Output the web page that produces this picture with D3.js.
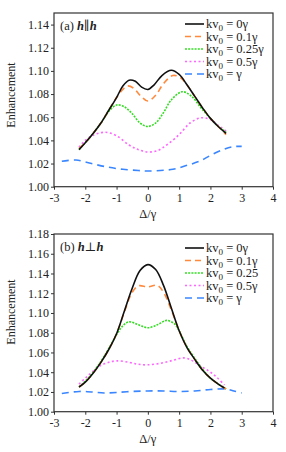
<!DOCTYPE html>
<html>
<head>
<meta charset="utf-8">
<script src="https://cdn.jsdelivr.net/npm/d3@7"></script>
<style>
  body { margin: 0; background: #fff; }
  #chart, #chart text { font-family: "Liberation Serif", "Times New Roman", "DejaVu Serif", serif !important; }
</style>
</head>
<body>
<svg id="chart" width="286" height="452"></svg>
<script>
// ---- data ----
var xTicks = [-3, -2, -1, 0, 1, 2, 3, 4];
var yTicksA = [1.00, 1.02, 1.04, 1.06, 1.08, 1.10, 1.12, 1.14];
var yTicksB = [1.00, 1.02, 1.04, 1.06, 1.08, 1.10, 1.12, 1.14, 1.16, 1.18];

var seriesNames = ["0γ", "0.1γ", "0.25γ", "0.5γ", "γ"];
var seriesNamesB = ["0γ", "0.1γ", "0.25", "0.5γ", "γ"];
var seriesColors = ["#111111", "#ff8a3d", "#33dd22", "#ff66ff", "#3a86ff"];
var seriesDash = [null, "6,4", "2,1.2", "2,2.5", "7,5"];

// panel (a) h || h
var a0x = [-2.2, -2.0, -1.75, -1.5, -1.25, -1.0, -0.8, -0.6, -0.4, -0.2, 0.0, 0.2, 0.45, 0.75, 1.0, 1.25, 1.5, 1.75, 2.0, 2.25, 2.5];
var a0y = [1.032, 1.038, 1.046, 1.055, 1.066, 1.077, 1.087, 1.092, 1.091, 1.086, 1.084, 1.088, 1.096, 1.1005, 1.097, 1.088, 1.078, 1.068, 1.059, 1.052, 1.046];
var a1x = [-2.2, -2.0, -1.75, -1.5, -1.25, -1.0, -0.8, -0.65, -0.45, -0.25, 0.0, 0.25, 0.5, 0.8, 1.05, 1.3, 1.5, 1.75, 2.0, 2.25, 2.5];
var a1y = [1.033, 1.038, 1.046, 1.055, 1.066, 1.077, 1.084, 1.087, 1.085, 1.079, 1.074, 1.079, 1.089, 1.096, 1.094, 1.086, 1.078, 1.068, 1.059, 1.052, 1.045];
var a2x = [-2.2, -2.0, -1.75, -1.5, -1.25, -1.0, -0.75, -0.5, -0.25, 0.0, 0.25, 0.5, 0.75, 1.1, 1.4, 1.7, 2.0, 2.25, 2.5];
var a2y = [1.032, 1.038, 1.046, 1.055, 1.065, 1.0705, 1.069, 1.063, 1.055, 1.052, 1.055, 1.064, 1.075, 1.082, 1.078, 1.068, 1.059, 1.052, 1.047];
var a3x = [-2.2, -2.0, -1.7, -1.35, -1.0, -0.6, -0.3, 0.0, 0.3, 0.6, 1.0, 1.35, 1.7, 2.0, 2.25, 2.5];
var a3y = [1.034, 1.040, 1.045, 1.047, 1.044, 1.036, 1.032, 1.030, 1.031, 1.036, 1.045, 1.055, 1.0595, 1.058, 1.053, 1.048];
var a4x = [-2.75, -2.3, -1.8, -1.3, -0.8, -0.3, 0.0, 0.4, 0.8, 1.2, 1.65, 2.0, 2.4, 2.7, 3.0];
var a4y = [1.022, 1.023, 1.020, 1.017, 1.015, 1.014, 1.0135, 1.014, 1.015, 1.018, 1.022, 1.027, 1.032, 1.0345, 1.0348];

// panel (b) h ⊥ h
var b0x = [-2.2, -2.0, -1.75, -1.5, -1.25, -1.0, -0.75, -0.5, -0.25, 0.0, 0.25, 0.5, 0.75, 1.0, 1.25, 1.5, 1.75, 2.0, 2.25, 2.45];
var b0y = [1.025, 1.030, 1.039, 1.050, 1.063, 1.079, 1.102, 1.125, 1.143, 1.149, 1.144, 1.128, 1.105, 1.082, 1.065, 1.053, 1.042, 1.034, 1.028, 1.024];
var b1x = [-2.2, -2.0, -1.75, -1.5, -1.25, -1.0, -0.75, -0.5, -0.3, 0.0, 0.3, 0.5, 0.75, 1.0, 1.25, 1.5, 1.75, 2.0, 2.25, 2.5];
var b1y = [1.025, 1.030, 1.039, 1.050, 1.063, 1.079, 1.101, 1.121, 1.1275, 1.1265, 1.128, 1.121, 1.103, 1.082, 1.065, 1.053, 1.042, 1.034, 1.028, 1.023];
var b2x = [-2.2, -2.0, -1.75, -1.5, -1.25, -1.0, -0.8, -0.6, -0.3, 0.0, 0.3, 0.6, 0.85, 1.0, 1.25, 1.5, 1.75, 2.0, 2.25, 2.5];
var b2y = [1.025, 1.031, 1.040, 1.051, 1.064, 1.078, 1.087, 1.091, 1.088, 1.085, 1.088, 1.0925, 1.089, 1.082, 1.066, 1.054, 1.043, 1.034, 1.028, 1.023];
var b3x = [-2.2, -2.0, -1.75, -1.5, -1.25, -1.0, -0.6, -0.3, 0.0, 0.4, 0.8, 1.15, 1.4, 1.6, 1.8, 2.0, 2.2, 2.45];
var b3y = [1.028, 1.034, 1.041, 1.047, 1.050, 1.0515, 1.050, 1.048, 1.0475, 1.049, 1.052, 1.0545, 1.052, 1.048, 1.044, 1.040, 1.035, 1.027];
var b4x = [-2.75, -2.2, -1.8, -1.4, -1.0, -0.5, 0.0, 0.5, 1.0, 1.5, 2.0, 2.5, 2.75, 3.0];
var b4y = [1.0185, 1.0205, 1.020, 1.019, 1.0195, 1.0205, 1.021, 1.021, 1.0205, 1.021, 1.0225, 1.023, 1.021, 1.019];

function zipSeries(xs, ys) {
    return xs.map(function (x, i) { return { x: x, y: ys[i] }; });
}

var panelA = {
    top: 13, bottom: 186.7, yMax: 1.15, yTicks: yTicksA, tag: "(a) ", sym: "∥",
    names: seriesNames, labelMid: 95,
    series: [zipSeries(a0x, a0y), zipSeries(a1x, a1y), zipSeries(a2x, a2y), zipSeries(a3x, a3y), zipSeries(a4x, a4y)],
    legendTop: 24
};
var panelB = {
    top: 234, bottom: 411.7, yMax: 1.18, yTicks: yTicksB, tag: "(b) ", sym: "⊥",
    names: seriesNamesB, labelMid: 312,
    series: [zipSeries(b0x, b0y), zipSeries(b1x, b1y), zipSeries(b2x, b2y), zipSeries(b3x, b3y), zipSeries(b4x, b4y)],
    legendTop: 248
};

var serif = "'Liberation Serif', 'Times New Roman', serif";
var svg = d3.select("#chart");
var left = 54, right = 273;

function drawPanel(p) {
    var x = d3.scaleLinear().domain([-3, 4]).range([left, right]);
    var y = d3.scaleLinear().domain([1.00, p.yMax]).range([p.bottom, p.top]);
    var g = svg.append("g").style("font-family", serif);

    //curves
    var line = d3.line().x(function (d) { return x(d.x); }).y(function (d) { return y(d.y); })
        .curve(d3.curveCatmullRom.alpha(0.5));
    for (var i = p.series.length - 1; i >= 0; i--) {
        g.append("path").attr("d", line(p.series[i]))
            .attr("fill", "none")
            .attr("stroke", seriesColors[i])
            .attr("stroke-width", 1.6)
            .attr("stroke-dasharray", seriesDash[i]);
    }

    //axes (plain hyphen for negatives, like the original)
    var xAxis = g.append("g").attr("transform", "translate(0," + p.bottom + ")")
        .call(d3.axisBottom(x).tickValues(xTicks).tickSize(3).tickSizeOuter(0).tickFormat(function (d) { return String(d); }));
    var yAxis = g.append("g").attr("transform", "translate(" + left + ",0)")
        .call(d3.axisLeft(y).tickValues(p.yTicks).tickSize(3).tickSizeOuter(0).tickFormat(d3.format(".2f")));
    [xAxis, yAxis].forEach(function (ax) {
        ax.attr("font-family", null).attr("font-size", null);
        ax.select(".domain").remove();
        ax.selectAll("line").attr("stroke", "#333").attr("stroke-width", 1);
        ax.selectAll("text").style("font-size", "12px").style("font-family", serif).attr("fill", "#222");
    });
    xAxis.selectAll("text").attr("dy", "0.8em");
    yAxis.selectAll("text").attr("x", -5);

    //frame
    g.append("rect").attr("x", left).attr("y", p.top)
        .attr("width", right - left).attr("height", p.bottom - p.top)
        .attr("fill", "none").attr("stroke", "#333").attr("stroke-width", 1.2);

    //axis titles
    g.append("text").attr("transform", "translate(15," + p.labelMid + ") rotate(-90)")
        .attr("text-anchor", "middle").style("font-size", "12px").attr("fill", "#222").text("Enhancement");
    g.append("text").attr("x", x(0)).attr("y", p.bottom + 31)
        .attr("text-anchor", "middle").style("font-size", "12.5px").attr("fill", "#222").text("Δ/γ");

    //panel tag
    var tag = g.append("text").attr("x", 60).attr("y", p.top + 17).style("font-size", "12.5px").attr("fill", "#222");
    tag.append("tspan").text(p.tag);
    tag.append("tspan").attr("font-style", "italic").attr("font-weight", "bold").text("h");
    tag.append("tspan").text(p.sym);
    tag.append("tspan").attr("font-style", "italic").attr("font-weight", "bold").text("h");

    //legend
    p.names.forEach(function (name, i) {
        var ly = p.legendTop + i * 12.5;
        g.append("line").attr("x1", 185).attr("x2", 204).attr("y1", ly).attr("y2", ly)
            .attr("stroke", seriesColors[i]).attr("stroke-width", 1.6)
            .attr("stroke-dasharray", seriesDash[i]);
        var t = g.append("text").attr("x", 206).attr("y", ly + 4).style("font-size", "12.5px").attr("fill", "#222");
        t.append("tspan").text("kv");
        t.append("tspan").style("font-size", "9px").attr("dy", 3).text("0");
        t.append("tspan").attr("dy", -3).text(" = " + name);
    });
}

drawPanel(panelA);
drawPanel(panelB);
</script>
</body>
</html>
